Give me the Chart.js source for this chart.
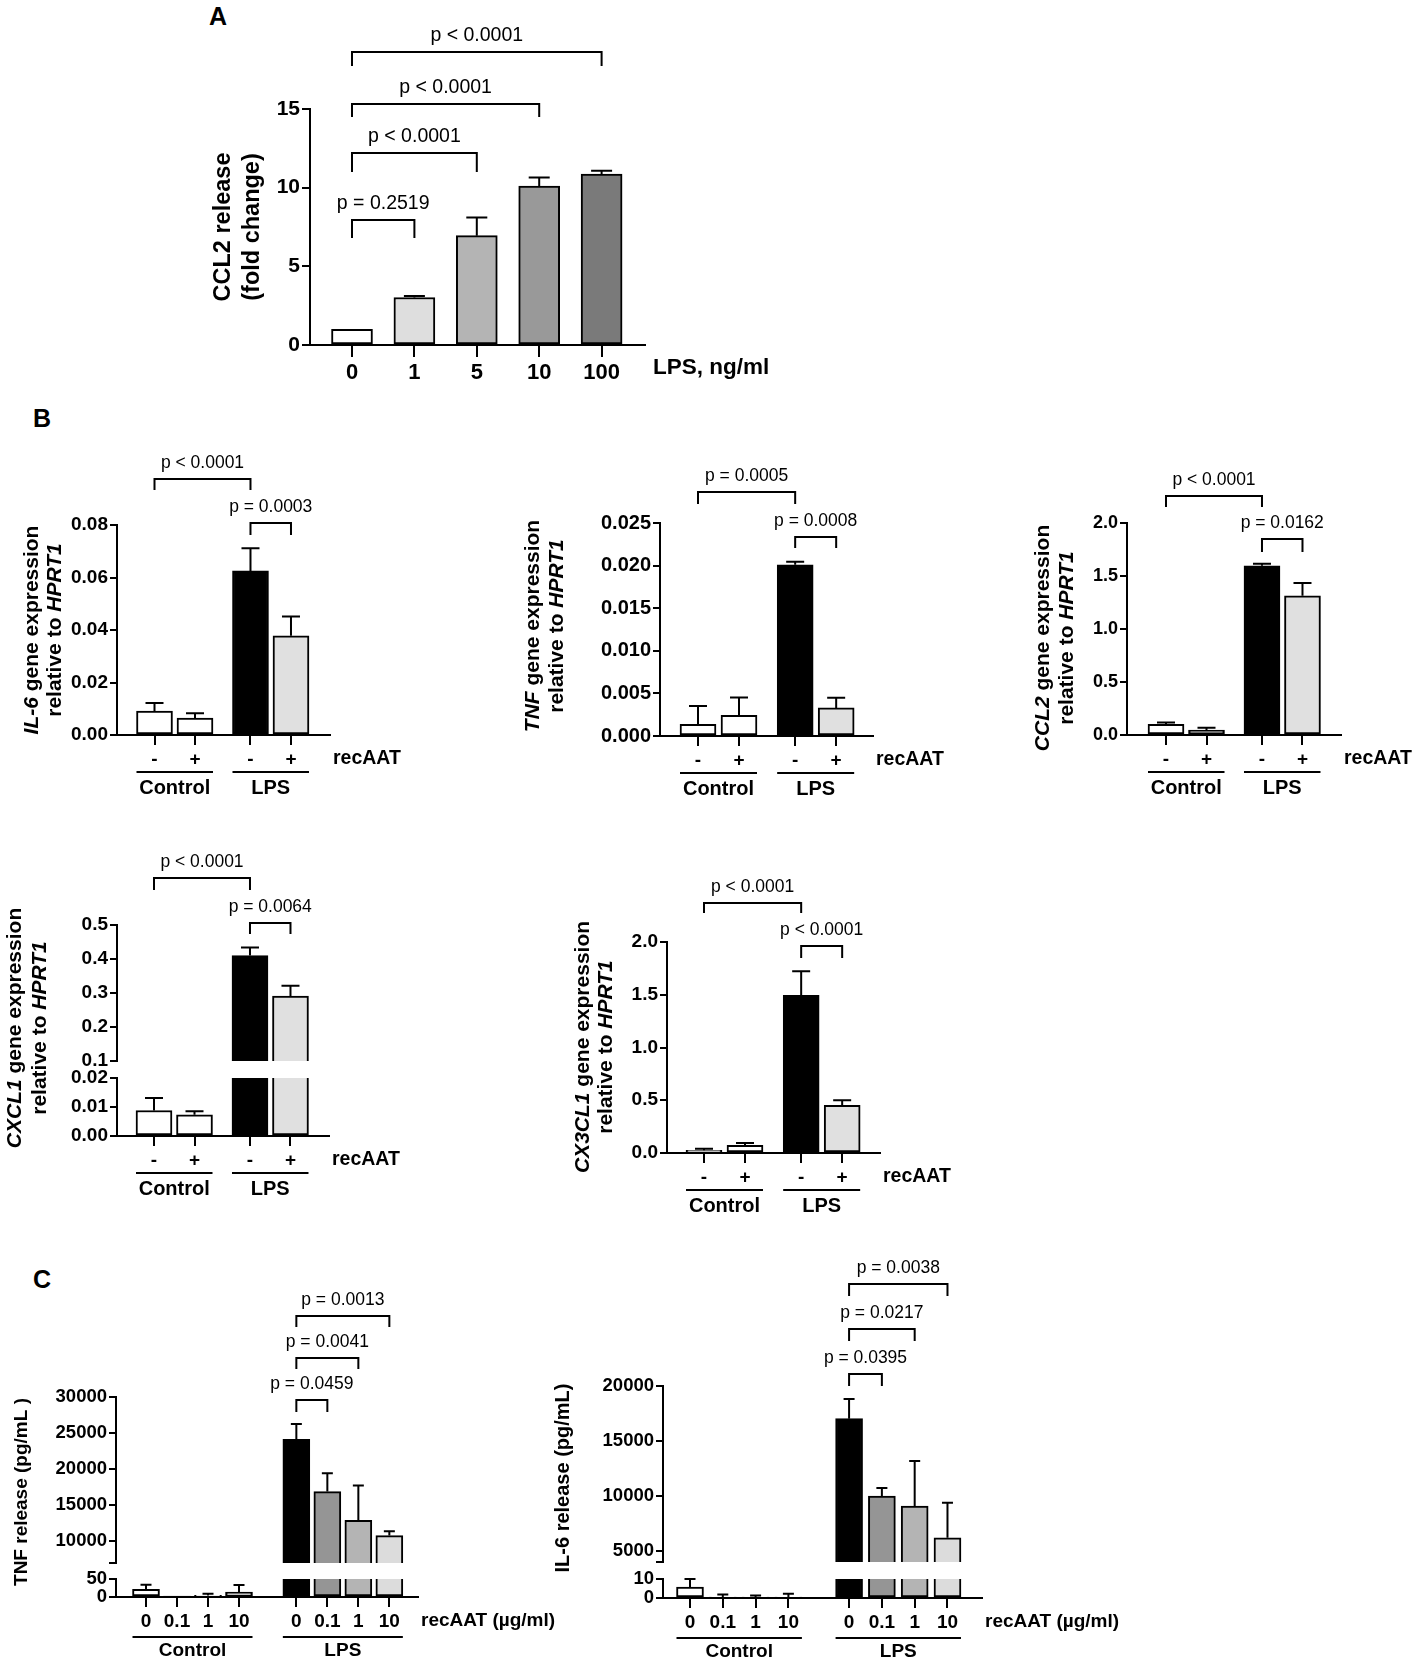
<!DOCTYPE html>
<html>
<head>
<meta charset="utf-8">
<title>CCL2 and cytokine bar charts</title>
<script src="https://cdn.jsdelivr.net/npm/chart.js@4.4.1/dist/chart.umd.min.js"></script>
<style>
  body { margin: 0; width: 1418px; height: 1666px; background: #fff; position: relative; overflow: hidden; font-family: "Liberation Sans", Arial, sans-serif; }
  canvas { position: absolute; }
  .tag { position: absolute; font-weight: bold; font-size: 25px; line-height: 25px; color: #000; }
</style>
</head>
<body>
<div class="tag" style="left:209px;top:4px">A</div>
<div class="tag" style="left:33px;top:406px">B</div>
<div class="tag" style="left:33px;top:1267px">C</div>
<script>
const FONT = '"Liberation Sans", Arial, Helvetica, sans-serif';
Chart.defaults.font.family = FONT;
Chart.defaults.color = '#000';

// ---------- A: CCL2 release vs LPS dose ----------
const lpsDoses = ['0', '1', '5', '10', '100'];
const ccl2Fold = [1.0, 3.02, 6.95, 10.1, 10.87];
const ccl2FoldSem = [0, 0.1, 1.15, 0.55, 0.2];
const ccl2FoldTicks = [0, 5, 10, 15];
const ccl2FoldTickLabels = ['0', '5', '10', '15'];
const ccl2FoldP = [[0, 1, 'p = 0.2519'], [0, 2, 'p < 0.0001'], [0, 3, 'p < 0.0001'], [0, 4, 'p < 0.0001']];
const colorsA = ['#ffffff', '#dedede', '#b4b4b4', '#999999', '#7a7a7a'];

// ---------- B: gene expression, control / LPS, -/+ recAAT ----------
const recAATSigns = ['-', '+', '-', '+'];
const groupsB = [[0, 1, 'Control'], [2, 3, 'LPS']];
const colorsB = ['#ffffff', '#ffffff', '#000000', '#e0e0e0'];

const il6Expr = [0.0091, 0.0064, 0.0625, 0.0378];
const il6ExprSem = [0.0031, 0.0019, 0.0086, 0.0073];
const il6ExprTicks = [0, 0.02, 0.04, 0.06, 0.08];
const il6ExprTickLabels = ['0.00', '0.02', '0.04', '0.06', '0.08'];
const il6ExprP = [[0, 2, 'p < 0.0001'], [2, 3, 'p = 0.0003']];

const tnfExpr = [0.00137, 0.00243, 0.0201, 0.0033];
const tnfExprSem = [0.00216, 0.00208, 0.00035, 0.0012];
const tnfExprTicks = [0, 0.005, 0.01, 0.015, 0.02, 0.025];
const tnfExprTickLabels = ['0.000', '0.005', '0.010', '0.015', '0.020', '0.025'];
const tnfExprP = [[0, 2, 'p = 0.0005'], [2, 3, 'p = 0.0008']];

const ccl2Expr = [0.101, 0.047, 1.597, 1.313];
const ccl2ExprSem = [0.016, 0.022, 0.019, 0.12];
const ccl2ExprTicks = [0, 0.5, 1, 1.5, 2];
const ccl2ExprTickLabels = ['0.0', '0.5', '1.0', '1.5', '2.0'];
const ccl2ExprP = [[0, 2, 'p < 0.0001'], [2, 3, 'p = 0.0162']];

const cxcl1Expr = [0.0088, 0.0073, 0.41, 0.291];
const cxcl1ExprSem = [0.0043, 0.0012, 0.024, 0.03];
const cxcl1UpperTicks = [0.1, 0.2, 0.3, 0.4, 0.5];
const cxcl1UpperTickLabels = ['0.1', '0.2', '0.3', '0.4', '0.5'];
const cxcl1LowerTicks = [0, 0.01, 0.02];
const cxcl1LowerTickLabels = ['0.00', '0.01', '0.02'];
const cxcl1ExprP = [[0, 2, 'p < 0.0001'], [2, 3, 'p = 0.0064']];

const cx3cl1Expr = [0.025, 0.073, 1.494, 0.452];
const cx3cl1ExprSem = [0.016, 0.022, 0.228, 0.047];
const cx3cl1ExprTicks = [0, 0.5, 1, 1.5, 2];
const cx3cl1ExprTickLabels = ['0.0', '0.5', '1.0', '1.5', '2.0'];
const cx3cl1ExprP = [[0, 2, 'p < 0.0001'], [2, 3, 'p < 0.0001']];

// ---------- C: cytokine release by recAAT dose ----------
const recAATDoses = ['0', '0.1', '1', '10', '0', '0.1', '1', '10'];
const groupsC = [[0, 3, 'Control'], [4, 7, 'LPS']];
const colorsC = ['#ffffff', '#ffffff', '#ffffff', '#ffffff', '#000000', '#959595', '#b4b4b4', '#dcdcdc'];

const tnfRelease = [21, 1.5, 4.5, 13.6, 24150, 16900, 12900, 10800];
const tnfReleaseSem = [13, 0, 4.5, 20, 2100, 2550, 4850, 600];
const tnfUpperTicks = [7000, 10000, 15000, 20000, 25000, 30000];
const tnfUpperTickLabels = ['', '10000', '15000', '20000', '25000', '30000'];
const tnfLowerTicks = [0, 50];
const tnfLowerTickLabels = ['0', '50'];
const tnfReleaseP = [[4, 5, 'p = 0.0459'], [4, 6, 'p = 0.0041'], [4, 7, 'p = 0.0013']];

const il6Release = [5.8, 0.5, 0.4, 0.5, 17030, 10000, 9090, 6200];
const il6ReleaseSem = [4.2, 1.3, 0.9, 1.8, 1790, 730, 4090, 3190];
const il6UpperTicks = [4000, 5000, 10000, 15000, 20000];
const il6UpperTickLabels = ['', '5000', '10000', '15000', '20000'];
const il6LowerTicks = [0, 10];
const il6LowerTickLabels = ['0', '10'];
const il6ReleaseP = [[4, 5, 'p = 0.0395'], [4, 6, 'p = 0.0217'], [4, 7, 'p = 0.0038']];

// ---------- layout ----------
const slotsA = [0, 1, 2, 3, 4];
const slotsB = [0, 1, 2.37, 3.37];
const slotsC = [0, 1, 2, 3, 4.85, 5.85, 6.85, 7.85];

const styleA = {yFont: 21, xFont: 22, sideFont: 22.5, groupFont: 20, titleFont: 23.5, pFont: 19.5, barW: 41, cap: 21, xTick: 12, yTick: 8, sideGap: 8, sideDy: 23};
const styleB = {yFont: 19, xFont: 19, sideFont: 19.5, groupFont: 20, titleFont: 21, pFont: 17.5, barW: 36, cap: 18, xTick: 10, yTick: 7, sideGap: 3, sideDy: 24, gLine: 37, gText: 53};
const styleC = {yFont: 18.5, xFont: 19, sideFont: 19, groupFont: 19, titleFont: 19, pFont: 17.5, barW: 27, cap: 11, xTick: 10, yTick: 7, sideGap: 3, sideDy: 24, gLine: 40, gText: 54};

function makeExtras(p, k) {
  const main = k === p.segs.length - 1, top = k === 0;
  return {
    id: 'extras' + k,
    afterDatasetsDraw(chart) {
      const {ctx, chartArea: ca, scales: {x, y}} = chart;
      const px = i => x.getPixelForValue(p.slots[i]);
      ctx.save();
      ctx.strokeStyle = '#000';
      ctx.fillStyle = '#000';
      ctx.lineWidth = 2;

      // SEM bars (upper half only), clipped to this axis segment
      ctx.save();
      ctx.beginPath();
      ctx.rect(ca.left, ca.top - 3, ca.right - ca.left, ca.bottom - ca.top + 3);
      ctx.clip();
      p.values.forEach((v, i) => {
        const e = p.errors[i];
        if (!e) return;
        const xc = px(i), y0 = y.getPixelForValue(v), y1 = y.getPixelForValue(v + e);
        ctx.beginPath();
        ctx.moveTo(xc, y0); ctx.lineTo(xc, y1);
        ctx.moveTo(xc - p.cap / 2, y1); ctx.lineTo(xc + p.cap / 2, y1);
        ctx.stroke();
      });
      ctx.restore();

      // significance brackets
      if (top) {
        ctx.font = p.pFont + 'px ' + FONT;
        ctx.textAlign = 'center';
        ctx.textBaseline = 'middle';
        p.pairs.forEach((q, j) => {
          const x1 = px(q[0]), x2 = px(q[1]), yb = ca.top + p.bracketY[j], leg = p.legs[j];
          ctx.beginPath();
          ctx.moveTo(x1, yb + leg); ctx.lineTo(x1, yb); ctx.lineTo(x2, yb); ctx.lineTo(x2, yb + leg);
          ctx.stroke();
          ctx.fillText(q[2], (x1 + x2) / 2, yb - 16);
        });
      }

      if (main) {
        const yb = ca.bottom;
        ctx.textBaseline = 'middle';
        ctx.font = 'bold ' + p.sideFont + 'px ' + FONT;
        ctx.textAlign = 'left';
        ctx.fillText(p.side, ca.right + p.sideGap, yb + p.sideDy);

        (p.groups || []).forEach(g => {
          const x1 = px(g[0]) - p.barW / 2, x2 = px(g[1]) + p.barW / 2;
          ctx.beginPath();
          ctx.moveTo(x1, yb + p.gLine); ctx.lineTo(x2, yb + p.gLine);
          ctx.stroke();
          ctx.font = 'bold ' + p.groupFont + 'px ' + FONT;
          ctx.textAlign = 'center';
          ctx.fillText(g[2], (x1 + x2) / 2, yb + p.gText);
        });

        // rotated y title, gene names in italics
        p.title.lines.forEach((runs, li) => {
          ctx.save();
          ctx.translate(p.title.x[li] - p.box[0], p.title.y - p.box[1]);
          ctx.rotate(-Math.PI / 2);
          ctx.textAlign = 'left';
          const size = p.title.size || p.titleFont;
          const fonts = runs.map(r => (r[1] ? 'italic ' : '') + 'bold ' + size + 'px ' + FONT);
          let w = 0;
          runs.forEach((r, i) => { ctx.font = fonts[i]; w += ctx.measureText(r[0]).width; });
          let cx = -w / 2;
          runs.forEach((r, i) => { ctx.font = fonts[i]; ctx.fillText(r[0], cx, 0); cx += ctx.measureText(r[0]).width; });
          ctx.restore();
        });
      }
      ctx.restore();
    }
  };
}

function barPanel(p) {
  const [bl, bt, bw, bh] = p.box;
  const xMin = (p.axisX - p.c0) / p.step, xMax = (p.axisRight - p.c0) / p.step;
  const broken = p.segs.length > 1;
  p.segs.forEach((s, k) => {
    const main = k === p.segs.length - 1;
    const cv = document.createElement('canvas');
    cv.width = bw; cv.height = bh;
    cv.style.left = bl + 'px'; cv.style.top = bt + 'px';
    document.body.appendChild(cv);
    new Chart(cv, {
      type: 'bar',
      data: {
        datasets: [{
          data: p.values.map((v, i) => ({x: p.slots[i], y: v})),
          backgroundColor: p.colors,
          borderColor: '#000',
          borderWidth: 2,
          borderSkipped: broken && !main ? 'start' : false,
          barThickness: p.barW,
          clip: 0
        }]
      },
      options: {
        responsive: false,
        animation: false,
        events: [],
        layout: {padding: {left: 0, right: bl + bw - p.axisRight, top: s.yTop - bt, bottom: main ? 0 : bt + bh - s.yBot}},
        plugins: {legend: {display: false}, tooltip: {enabled: false}},
        scales: {
          x: {
            type: 'linear', min: xMin, max: xMax, offset: false, display: main,
            afterBuildTicks: a => { a.ticks = p.slots.map(v => ({value: v})); },
            afterFit: a => { a.height = main ? bt + bh - s.yBot : 0; },
            ticks: {callback: (v, i) => p.labels[i], font: {size: p.xFont, weight: 'bold'}, padding: 3, autoSkip: false, maxRotation: 0, color: '#000'},
            grid: {offset: false, drawOnChartArea: false, tickLength: p.xTick, color: '#000', lineWidth: 2},
            border: {display: true, color: '#000', width: 2, z: 1}
          },
          y: {
            type: 'linear', min: s.ticks[0], max: s.ticks[s.ticks.length - 1],
            afterBuildTicks: a => { a.ticks = s.ticks.map(v => ({value: v})); },
            afterFit: a => { a.width = p.axisX - bl; },
            ticks: {callback: (v, i) => s.tickLabels[i], font: {size: p.yFont, weight: 'bold'}, padding: 2, autoSkip: false, color: '#000'},
            grid: {drawOnChartArea: false, tickLength: p.yTick, color: '#000', lineWidth: 2},
            border: {display: true, color: '#000', width: 2, z: 1}
          }
        }
      },
      plugins: [makeExtras(p, k)]
    });
  });
}

// A
barPanel(Object.assign({}, styleA, {
  box: [190, 0, 620, 400], axisX: 310, axisRight: 645, c0: 352, step: 62.4, slots: slotsA,
  labels: lpsDoses, values: ccl2Fold, errors: ccl2FoldSem, colors: colorsA,
  segs: [{yTop: 109, yBot: 345, ticks: ccl2FoldTicks, tickLabels: ccl2FoldTickLabels}],
  side: 'LPS, ng/ml',
  title: {lines: [[['CCL2 release', 0]], [['(fold change)', 0]]], x: [224, 253], y: 227},
  pairs: ccl2FoldP, bracketY: [111, 44, -5, -57], legs: [18, 19, 13, 14]
}));

// B, IL-6
barPanel(Object.assign({}, styleB, {
  box: [0, 420, 420, 390], axisX: 117, axisRight: 330, c0: 154.5, step: 40.5, slots: slotsB,
  labels: recAATSigns, values: il6Expr, errors: il6ExprSem, colors: colorsB, groups: groupsB,
  segs: [{yTop: 525, yBot: 735, ticks: il6ExprTicks, tickLabels: il6ExprTickLabels}],
  side: 'recAAT',
  title: {lines: [[['IL-6', 1], [' gene expression', 0]], [['relative to ', 0], ['HPRT1', 1]]], x: [32, 55], y: 630},
  pairs: il6ExprP, bracketY: [-46, -2], legs: [11, 12]
}));

// B, TNF
barPanel(Object.assign({}, styleB, {
  yFont: 20,
  box: [500, 420, 460, 390], axisX: 660, axisRight: 873, c0: 698, step: 41, slots: slotsB,
  labels: recAATSigns, values: tnfExpr, errors: tnfExprSem, colors: colorsB, groups: groupsB,
  segs: [{yTop: 523, yBot: 736, ticks: tnfExprTicks, tickLabels: tnfExprTickLabels}],
  side: 'recAAT',
  title: {lines: [[['TNF', 1], [' gene expression', 0]], [['relative to ', 0], ['HPRT1', 1]]], x: [533, 557], y: 626},
  pairs: tnfExprP, bracketY: [-31, 14], legs: [12, 11]
}));

// B, CCL2
barPanel(Object.assign({}, styleB, {
  yFont: 18,
  box: [1010, 420, 408, 390], axisX: 1127, axisRight: 1341, c0: 1166, step: 40.5, slots: slotsB,
  labels: recAATSigns, values: ccl2Expr, errors: ccl2ExprSem, colors: colorsB, groups: groupsB,
  segs: [{yTop: 523, yBot: 735, ticks: ccl2ExprTicks, tickLabels: ccl2ExprTickLabels}],
  side: 'recAAT',
  title: {lines: [[['CCL2', 1], [' gene expression', 0]], [['relative to ', 0], ['HPRT1', 1]]], x: [1043, 1067], y: 638},
  pairs: ccl2ExprP, bracketY: [-27, 16], legs: [11, 13]
}));

// B, CXCL1 (broken axis)
barPanel(Object.assign({}, styleB, {
  box: [0, 830, 420, 380], axisX: 117, axisRight: 329, c0: 154, step: 40.5, slots: slotsB,
  labels: recAATSigns, values: cxcl1Expr, errors: cxcl1ExprSem, colors: colorsB, groups: groupsB,
  segs: [
    {yTop: 925, yBot: 1061, ticks: cxcl1UpperTicks, tickLabels: cxcl1UpperTickLabels},
    {yTop: 1078, yBot: 1136, ticks: cxcl1LowerTicks, tickLabels: cxcl1LowerTickLabels}
  ],
  side: 'recAAT',
  title: {lines: [[['CXCL1', 1], [' gene expression', 0]], [['relative to ', 0], ['HPRT1', 1]]], x: [15, 40], y: 1028},
  pairs: cxcl1ExprP, bracketY: [-47, -2], legs: [12, 11]
}));

// B, CX3CL1
barPanel(Object.assign({}, styleB, {
  box: [550, 860, 420, 370], axisX: 667, axisRight: 880, c0: 704, step: 41, slots: slotsB,
  labels: recAATSigns, values: cx3cl1Expr, errors: cx3cl1ExprSem, colors: colorsB, groups: groupsB,
  segs: [{yTop: 942, yBot: 1153, ticks: cx3cl1ExprTicks, tickLabels: cx3cl1ExprTickLabels}],
  side: 'recAAT',
  title: {lines: [[['CX3CL1', 1], [' gene expression', 0]], [['relative to ', 0], ['HPRT1', 1]]], x: [583, 606], y: 1047},
  pairs: cx3cl1ExprP, bracketY: [-39, 4], legs: [10, 12]
}));

// C, TNF release (broken axis)
barPanel(Object.assign({}, styleC, {
  box: [0, 1270, 560, 396], axisX: 116, axisRight: 418, c0: 146, step: 31, slots: slotsC,
  labels: recAATDoses, values: tnfRelease, errors: tnfReleaseSem, colors: colorsC, groups: groupsC,
  segs: [
    {yTop: 1397, yBot: 1563, ticks: tnfUpperTicks, tickLabels: tnfUpperTickLabels},
    {yTop: 1579, yBot: 1597, ticks: tnfLowerTicks, tickLabels: tnfLowerTickLabels}
  ],
  side: 'recAAT (\u00b5g/ml)',
  title: {lines: [[['TNF release (pg/mL )', 0]]], x: [22], y: 1492, size: 19},
  pairs: tnfReleaseP, bracketY: [3, -39, -81], legs: [12, 11, 11]
}));

// C, IL-6 release (broken axis)
barPanel(Object.assign({}, styleC, {
  box: [550, 1250, 600, 416], axisX: 663, axisRight: 982, c0: 690, step: 32.8, slots: slotsC,
  labels: recAATDoses, values: il6Release, errors: il6ReleaseSem, colors: colorsC, groups: groupsC,
  segs: [
    {yTop: 1386, yBot: 1562, ticks: il6UpperTicks, tickLabels: il6UpperTickLabels},
    {yTop: 1579, yBot: 1598, ticks: il6LowerTicks, tickLabels: il6LowerTickLabels}
  ],
  side: 'recAAT (\u00b5g/ml)',
  title: {lines: [[['IL-6 release (pg/mL)', 0]]], x: [563], y: 1478, size: 20},
  pairs: il6ReleaseP, bracketY: [-12, -57, -102], legs: [12, 12, 12]
}));
</script>
</body>
</html>
